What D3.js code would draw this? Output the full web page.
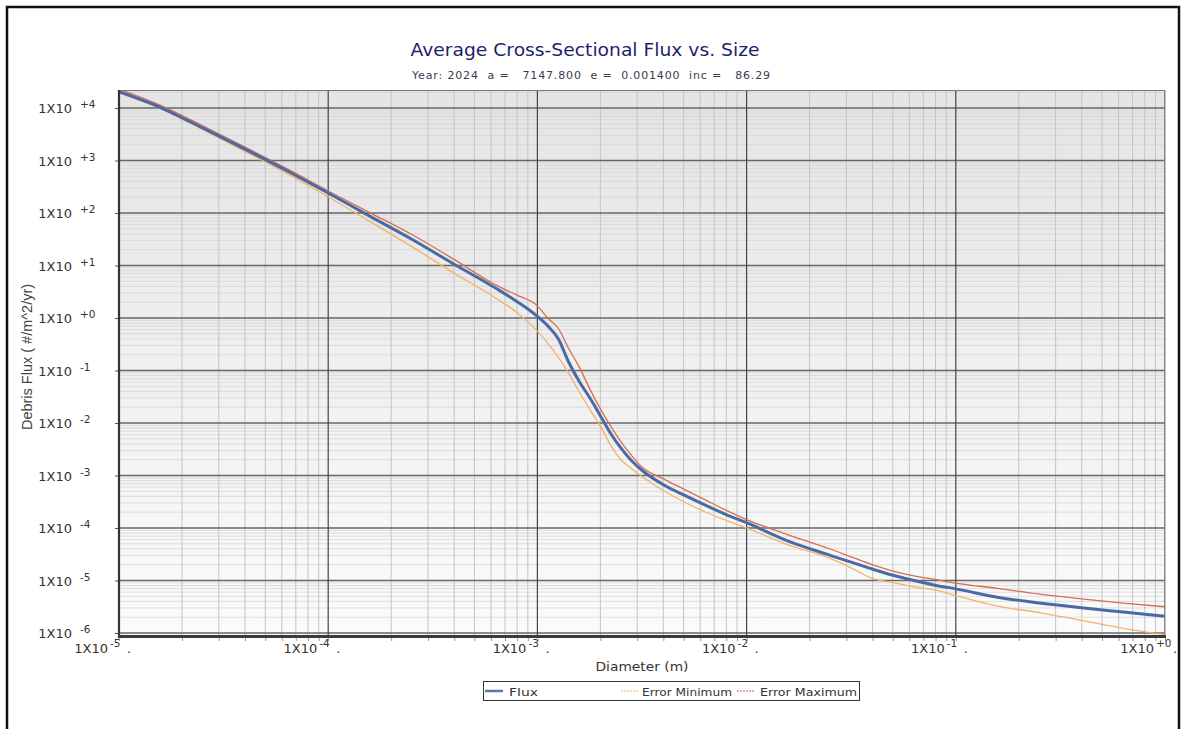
<!DOCTYPE html>
<html><head><meta charset="utf-8">
<script src="https://cdn.jsdelivr.net/npm/d3@7"></script>
<style>body{margin:0;background:#fff}svg{display:block}</style>
</head><body>
<svg id="c" width="1181" height="729"></svg>
<script>
// ---- data ----
const diameters = [1e-5,1.58e-5,2.51e-5,3.98e-5,6.31e-5,1e-4,1.58e-4,2.51e-4,3.98e-4,6.31e-4,7.94e-4,1e-3,1.12e-3,1.26e-3,1.41e-3,1.58e-3,1.78e-3,2.0e-3,2.24e-3,2.51e-3,2.82e-3,3.16e-3,3.98e-3,5.01e-3,6.31e-3,7.94e-3,1e-2,1.58e-2,2.51e-2,3.16e-2,3.98e-2,5.01e-2,6.31e-2,7.94e-2,0.1,0.158,0.251,0.398,0.631,1.0];
const flux = [2.04e4,1.02e4,4.17e3,1.66e3,646,240,87.1,31.6,10.7,3.72,2.09,1.07,0.708,0.398,0.145,6.31e-2,3.02e-2,1.38e-2,6.31e-3,3.31e-3,1.91e-3,1.26e-3,6.76e-4,4.27e-4,2.75e-4,1.82e-4,1.26e-4,5.62e-5,3.02e-5,2.24e-5,1.66e-5,1.26e-5,1.0e-5,8.13e-6,6.92e-6,4.79e-6,3.72e-6,3.02e-6,2.51e-6,2.09e-6];
const errorMin = [1.95e4,9.77e3,3.89e3,1.51e3,575,204,69.2,22.9,7.24,2.40,1.29,0.562,0.331,0.178,8.91e-2,3.98e-2,1.82e-2,8.71e-3,3.80e-3,2.00e-3,1.35e-3,9.55e-4,5.25e-4,3.16e-4,2.04e-4,1.41e-4,1.0e-4,4.79e-5,2.63e-5,1.74e-5,1.10e-5,9.12e-6,7.59e-6,6.61e-6,5.13e-6,3.24e-6,2.45e-6,1.74e-6,1.23e-6,9.33e-7];
const errorMax = [2.29e4,1.12e4,4.57e3,1.82e3,708,263,102,38.9,13.2,4.27,2.75,1.70,1.00,0.631,0.263,0.120,4.47e-2,1.86e-2,8.71e-3,4.37e-3,2.40e-3,1.45e-3,8.71e-4,5.50e-4,3.47e-4,2.19e-4,1.45e-4,7.41e-5,3.98e-5,2.82e-5,2.00e-5,1.51e-5,1.23e-5,1.05e-5,8.91e-6,7.08e-6,5.50e-6,4.47e-6,3.72e-6,3.16e-6];
const xTickValues = [1e-5,1e-4,1e-3,1e-2,1e-1,1];
const xTickExps = ["-5","-4","-3","-2","-1","+0"];
const yTickValues = [1e4,1e3,1e2,1e1,1,1e-1,1e-2,1e-3,1e-4,1e-5,1e-6];
const yTickExps = ["+4","+3","+2","+1","+0","-1","-2","-3","-4","-5","-6"];
const minorMultipliers = [2,3,4,5,6,7,8,9];
const seriesNames = ["Flux","Error Minimum","Error Maximum"];
const titleText = "Average Cross-Sectional Flux vs. Size";
const subtitleText = "Year: 2024  a =   7147.800  e =  0.001400  inc =   86.29";
const xTitle = "Diameter (m)";
const yTitle = "Debris Flux ( #/m^2/yr)";

// ---- layout ----
const L = 119, R = 1165, T = 90, B = 637;
const svg = d3.select("#c");
const x = d3.scaleLog().domain([1e-5, 1]).range([L, R]);
const y = d3.scaleLog().domain([1e-6, 1e4]).range([633, 108]);
const font = "'DejaVu Sans', Verdana, sans-serif";

// outer frame
svg.append("rect").attr("x",7).attr("y",7).attr("width",1172).attr("height",760)
  .attr("fill","none").attr("stroke","#111").attr("stroke-width",2.5);

const defs = svg.append("defs");
const grad = defs.append("linearGradient").attr("id","bg").attr("x1",0).attr("y1",0).attr("x2",0).attr("y2",1);
grad.append("stop").attr("offset","0%").attr("stop-color","#e4e4e4");
grad.append("stop").attr("offset","100%").attr("stop-color","#fbfbfb");
defs.append("clipPath").attr("id","clip").append("rect")
  .attr("x",L).attr("y",T).attr("width",R-L).attr("height",B-T);

svg.append("rect").attr("x",L).attr("y",T).attr("width",R-L).attr("height",B-T).attr("fill","url(#bg)");

const g = svg.append("g").attr("clip-path","url(#clip)");
const yMinor = [], xMinor = [];
[1e-7,1e-6,1e-5,1e-4,1e-3,1e-2,1e-1,1,10,100,1000,1e4].forEach(d => minorMultipliers.forEach(k => yMinor.push(k*d)));
[1e-5,1e-4,1e-3,1e-2,1e-1].forEach(d => minorMultipliers.forEach(k => xMinor.push(k*d)));

g.selectAll(".hmin").data(yMinor).join("line")
  .attr("x1",L).attr("x2",R).attr("y1",d=>y(d)).attr("y2",d=>y(d))
  .attr("stroke","#d6d6d6").attr("stroke-width",0.8);
g.selectAll(".vmin").data(xMinor).join("line")
  .attr("x1",d=>x(d)).attr("x2",d=>x(d)).attr("y1",T).attr("y2",B)
  .attr("stroke","#c4c4c4").attr("stroke-width",1);
g.selectAll(".hmaj").data(yTickValues).join("line")
  .attr("x1",L).attr("x2",R).attr("y1",d=>y(d)).attr("y2",d=>y(d))
  .attr("stroke","#666").attr("stroke-width",1.6);
g.selectAll(".vmaj").data(xTickValues).join("line")
  .attr("x1",d=>x(d)).attr("x2",d=>x(d)).attr("y1",T).attr("y2",B)
  .attr("stroke","#444").attr("stroke-width",1.2);

// series
const line = d3.line().x((d,i)=>x(diameters[i])).y(d=>y(d)).curve(d3.curveMonotoneX);
const series = [
  {name: seriesNames[1], data: errorMin, color: "#f2b26a", w: 1.3},
  {name: seriesNames[2], data: errorMax, color: "#d2704e", w: 1.3},
  {name: seriesNames[0], data: flux, color: "#4a6aa6", w: 3}
];
g.selectAll(".series").data(series).join("path")
  .attr("d", s => line(s.data)).attr("fill","none")
  .attr("stroke", s => s.color).attr("stroke-width", s => s.w)
  .attr("stroke-linejoin","round");

// plot borders
svg.append("line").attr("x1",L).attr("x2",R).attr("y1",T+0.5).attr("y2",T+0.5).attr("stroke","#777").attr("stroke-width",1);
svg.append("line").attr("x1",R).attr("x2",R).attr("y1",T).attr("y2",B).attr("stroke","#888").attr("stroke-width",1);

// axes
const yAxis = d3.axisLeft(y).tickValues(yTickValues).tickSize(4).tickFormat(()=>"");
const ya = svg.append("g").attr("transform",`translate(${L},0)`).call(yAxis);
ya.select(".domain").remove();
ya.selectAll("line").attr("stroke","#555");
const xAxis = d3.axisBottom(x).tickValues(xTickValues.concat(xMinor)).tickSize(4).tickFormat(()=>"");
const xa = svg.append("g").attr("transform",`translate(0,${B})`).call(xAxis);
xa.select(".domain").remove();
xa.selectAll("line").attr("stroke","#999");
svg.append("line").attr("x1",L).attr("x2",L).attr("y1",T).attr("y2",B+1).attr("stroke","#333").attr("stroke-width",2.2);
svg.append("line").attr("x1",L).attr("x2",R+1).attr("y1",B-0.5).attr("y2",B-0.5).attr("stroke","#3a3a3a").attr("stroke-width",3);

// y tick labels
const yl = svg.append("g").attr("font-family",font).attr("fill","#333");
yTickValues.forEach((v,i) => {
  yl.append("text").attr("x",72).attr("y",y(v)+5).attr("text-anchor","end").attr("font-size",13).text("1X10");
  yl.append("text").attr("x",80).attr("y",y(v)).attr("font-size",10.5).text(yTickExps[i]);
});
// x tick labels
const xl = svg.append("g").attr("font-family",font).attr("fill","#333");
xTickValues.forEach((v,i) => {
  const px = x(v);
  xl.append("text").attr("x",px-11).attr("y",653).attr("text-anchor","end").attr("font-size",13).text("1X10");
  xl.append("text").attr("x",px-9).attr("y",647).attr("font-size",10.5).text(xTickExps[i]);
  xl.append("text").attr("x",px+8).attr("y",653).attr("font-size",13).text(".");
});

// titles
svg.append("text").attr("x",585).attr("y",56).attr("text-anchor","middle")
  .attr("font-family",font).attr("font-size",17).attr("fill","#1e1e6e")
  .attr("textLength",349).attr("lengthAdjust","spacingAndGlyphs").text(titleText);
svg.append("text").attr("x",591).attr("y",79).attr("text-anchor","middle")
  .attr("font-family",font).attr("font-size",11).attr("fill","#3a3a50")
  .style("white-space","pre").attr("xml:space","preserve")
  .attr("textLength",358).attr("lengthAdjust","spacing").text(subtitleText);
svg.append("text").attr("x",(L+R)/2).attr("y",671).attr("text-anchor","middle")
  .attr("font-family",font).attr("font-size",13).attr("fill","#333")
  .attr("textLength",93).attr("lengthAdjust","spacingAndGlyphs").text(xTitle);
svg.append("text").attr("transform","translate(32,357) rotate(-90)").attr("text-anchor","middle")
  .attr("font-family","'Liberation Sans', Arial, sans-serif").attr("font-size",14.5).attr("fill","#444")
  .style("white-space","pre").text(yTitle);

// legend
const lg = svg.append("g");
lg.append("rect").attr("x",483.5).attr("y",681.5).attr("width",376).attr("height",19)
  .attr("fill","#fff").attr("stroke","#333").attr("stroke-width",1);
const legendItems = [
  {name: seriesNames[0], color:"#5b77ad", w:2.5, dash:null, lx:485, tx:509, tl:29},
  {name: seriesNames[1], color:"#efcf9e", w:1.5, dash:"2,1", lx:621, tx:642, tl:90},
  {name: seriesNames[2], color:"#c99a88", w:1.5, dash:"2,1", lx:737, tx:760, tl:97}
];
legendItems.forEach(it => {
  lg.append("line").attr("x1",it.lx).attr("x2",it.lx+18).attr("y1",691).attr("y2",691)
    .attr("stroke",it.color).attr("stroke-width",it.w).attr("stroke-dasharray",it.dash);
  lg.append("text").attr("x",it.tx).attr("y",695.5).attr("font-family",font).attr("font-size",11)
    .attr("fill","#333").attr("textLength",it.tl).attr("lengthAdjust","spacingAndGlyphs").text(it.name);
});
</script>
</body></html>
